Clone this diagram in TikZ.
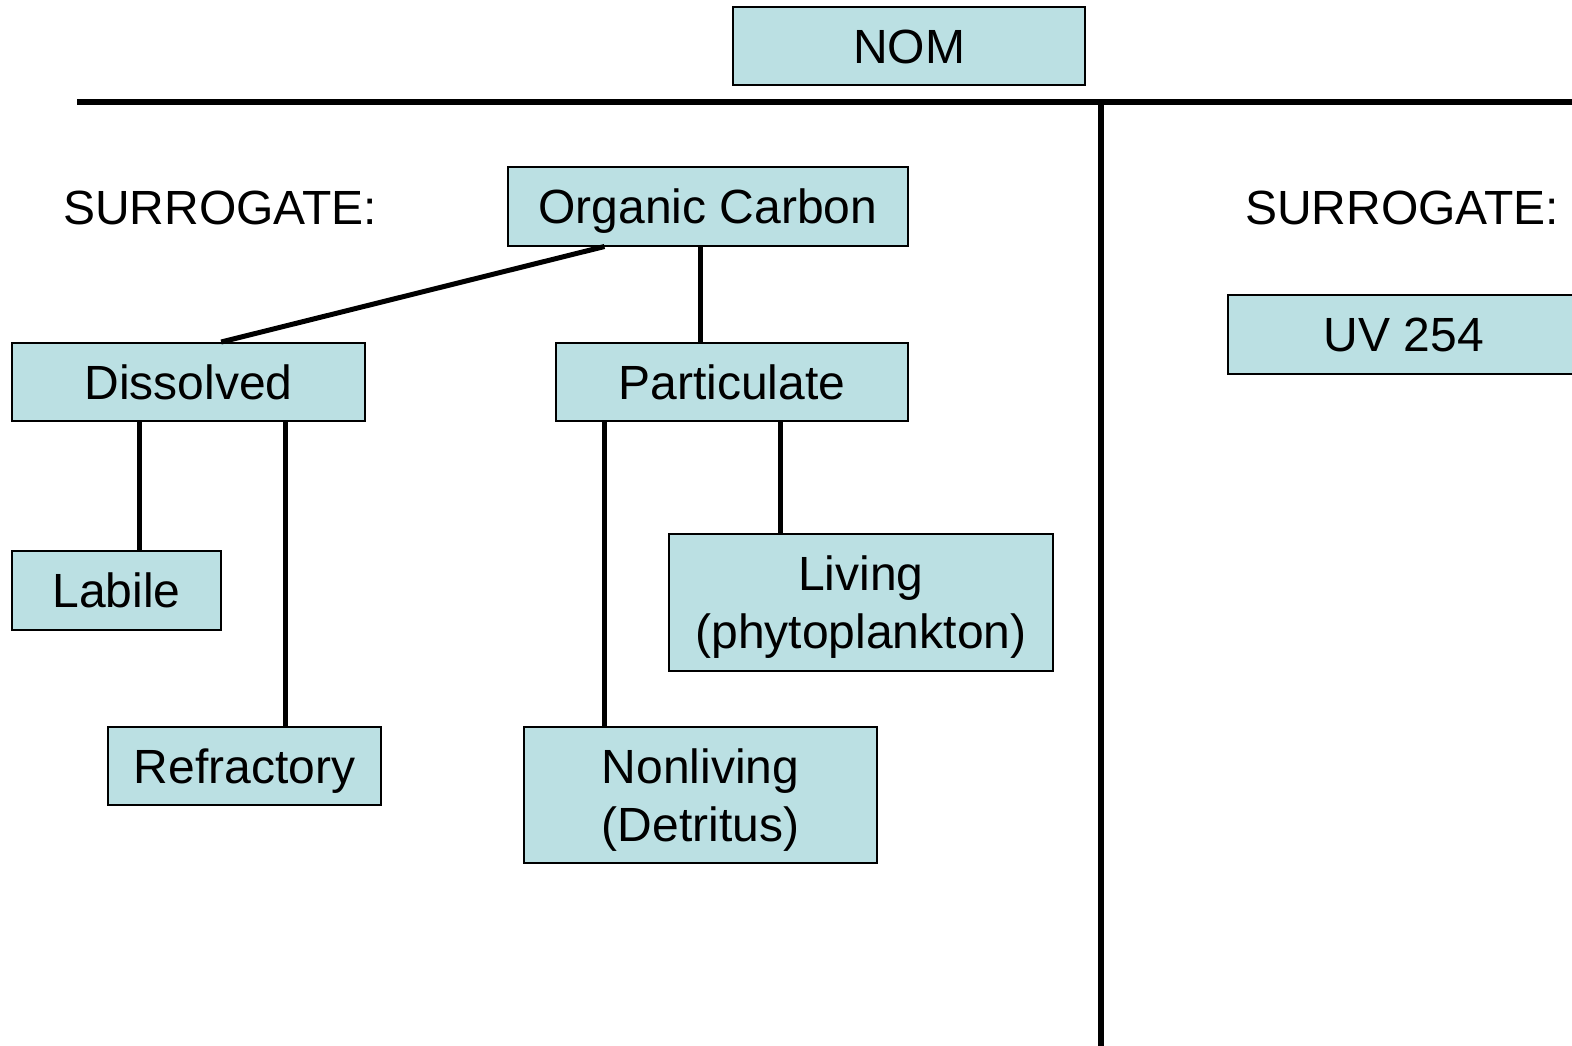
\documentclass[tikz,border=0pt]{standalone}
\usepackage{fontspec}
\setmainfont{Liberation Sans}
\usepackage{xcolor}
\definecolor{nomfill}{RGB}{187,224,227}
\usepackage{tikz}
\usetikzlibrary{calc,positioning}
\tikzset{
  box/.style={draw=black,line width=2pt,fill=nomfill,align=center,inner sep=0pt,font=\fontsize{48}{58}\selectfont},
  onel/.style={text height=34pt,text depth=0pt},
  twol/.style={text depth=0pt},
  lbl/.style={align=center,inner sep=0pt,text height=34pt,text depth=0pt,font=\fontsize{48}{58}\selectfont},
  link/.style={draw=black,line width=5pt},
  rule/.style={draw=black,line width=6.5pt},
}
\begin{document}
\begin{tikzpicture}[x=1pt,y=-1pt]
\useasboundingbox (0,0) rectangle (1572,1045);
\node[box,onel,minimum width=352pt,minimum height=78pt] (nom) at (909,46) {NOM};
% dividing lines
\coordinate (hl) at (77,102);
\coordinate (hr) at (1578,102);
\coordinate (vt) at (1101,102);
\coordinate (vb) at (1101,1050);
\draw[rule] (hl) -- (hr);
\draw[rule] (vt) -- (vb);
% left side
\node[lbl] (surl) at (220,207) {SURROGATE:};
\node[box,onel,minimum width=400pt,minimum height=79pt] (oc) at (708,206) {Organic Carbon};
\node[box,onel,minimum width=353pt,minimum height=78pt] (dis) at (188.5,382) {Dissolved};
\node[box,onel,minimum width=352pt,minimum height=78pt] (part) at (732,382) {Particulate};
\node[box,onel,minimum width=209pt,minimum height=79pt] (lab) at (116.5,590) {Labile};
\node[box,onel,minimum width=273pt,minimum height=78pt] (ref) at (244.5,766) {Refractory};
\node[box,twol,minimum width=384pt,minimum height=137pt] (liv) at (861,602.5) {Living\\(phytoplankton)};
\node[box,twol,minimum width=353pt,minimum height=136pt] (nonliv) at (700.5,795) {Nonliving\\(Detritus)};
% right side
\node[lbl] (surr) at (1402,207) {SURROGATE:};
\node[box,onel,minimum width=352pt,minimum height=79pt] (uv) at (1404,334.5) {UV 254};
% links
\draw[link] ($(oc.south west)!.2425!(oc.south east)$) -- ($(dis.north west)!.592!(dis.north east)$);
\draw[link] ($(part.north west)!.41!(part.north east)$) coordinate (p1) -- (p1 |- oc.south);
\draw[link] ($(dis.south west)!.363!(dis.south east)$) coordinate (d1) -- (d1 |- lab.north);
\draw[link] ($(dis.south west)!.773!(dis.south east)$) coordinate (d2) -- (d2 |- ref.north);
\draw[link] ($(part.south west)!.139!(part.south east)$) coordinate (p2) -- (p2 |- nonliv.north);
\draw[link] ($(part.south west)!.636!(part.south east)$) coordinate (p3) -- (p3 |- liv.north);
\end{tikzpicture}
\end{document}
